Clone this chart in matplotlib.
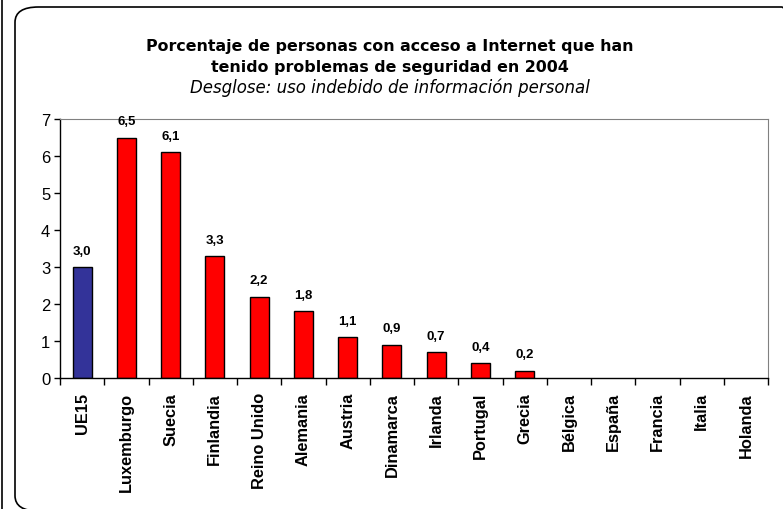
import matplotlib.pyplot as plt
from matplotlib.patches import FancyBboxPatch
import numpy as np

# --- data ---
paises = ['UE15', 'Luxemburgo', 'Suecia', 'Finlandia', 'Reino Unido', 'Alemania',
          'Austria', 'Dinamarca', 'Irlanda', 'Portugal', 'Grecia', 'Bélgica',
          'España', 'Francia', 'Italia', 'Holanda']
valores = [3.0, 6.5, 6.1, 3.3, 2.2, 1.8, 1.1, 0.9, 0.7, 0.4, 0.2,
           None, None, None, None, None]
y_ticks = [0, 1, 2, 3, 4, 5, 6, 7]

plt.rcParams['font.family'] = ['Liberation Sans', 'DejaVu Sans']

fig = plt.figure(figsize=(7.83, 5.1), dpi=100)

# rounded chart frame and outer border
frame = FancyBboxPatch((15 / 783, -2 / 510), 790 / 783, 504 / 510,
                       boxstyle='round,pad=0,rounding_size=0.03',
                       transform=fig.transFigure, fill=False,
                       edgecolor='black', linewidth=1.2, clip_on=False)
fig.patches.append(frame)
fig.add_artist(plt.Line2D([1.5 / 783, 1.5 / 783], [0, 1], color='black', lw=1.2,
                          transform=fig.transFigure))

ax = fig.add_axes([60 / 783, 131 / 510, 708 / 783, 259 / 510])

x = np.arange(len(paises))
colores = ['#333399'] + ['#FF0000'] * (len(paises) - 1)
for i, v in enumerate(valores):
    if v is None:
        continue
    ax.bar(x[i], v, width=0.43, color=colores[i], edgecolor='black', linewidth=1)
    ax.text(x[i], v + 0.28, f'{v:.1f}'.replace('.', ','), ha='center', va='bottom',
            fontsize=9.5, fontweight='bold')

ax.set_xlim(-0.5, len(paises) - 0.5)
ax.set_ylim(0, 7)
ax.set_yticks(y_ticks)
ax.tick_params(axis='y', labelsize=12, length=4, width=1, direction='out', pad=3)

# ticks between categories
ax.set_xticks(np.arange(-0.5, len(paises), 1.0))
ax.set_xticklabels([])
ax.tick_params(axis='x', length=5, width=1, direction='out')
for i, p in enumerate(paises):
    ax.text(x[i], -0.38, p, rotation=90, ha='center', va='top',
            fontsize=11.8, fontweight='bold', transform=ax.transData)

ax.spines['top'].set_color('#808080')
ax.spines['right'].set_color('#808080')
ax.spines['left'].set_linewidth(1)
ax.spines['bottom'].set_linewidth(1)

fig.text(0.498, 0.908, 'Porcentaje de personas con acceso a Internet que han',
         ha='center', va='center', fontsize=11.4, fontweight='bold',
         family=['DejaVu Sans'])
fig.text(0.498, 0.868, 'tenido problemas de seguridad en 2004',
         ha='center', va='center', fontsize=11.4, fontweight='bold',
         family=['DejaVu Sans'])
fig.text(0.498, 0.827, 'Desglose: uso indebido de información personal',
         ha='center', va='center', fontsize=12, style='italic',
         family=['DejaVu Sans'])

plt.savefig('out.png', dpi=100)
